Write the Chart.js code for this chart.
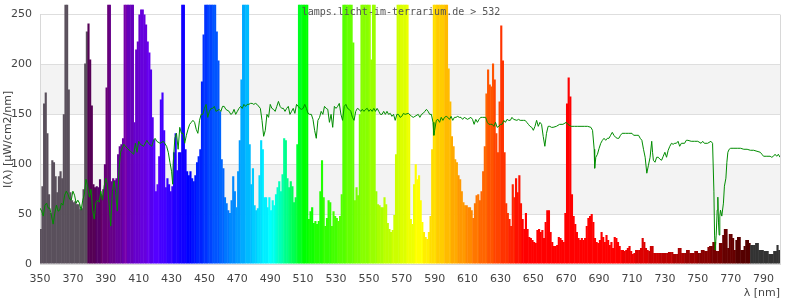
<!DOCTYPE html>
<html><head><meta charset="utf-8">
<script src="https://cdn.jsdelivr.net/npm/chart.js@4"></script>
<style>html,body{margin:0;padding:0;background:#fff;}canvas{display:block;}</style>
</head><body>
<canvas id="c" width="800" height="300"></canvas>
<script>
const startNm = 350;
const lampValues = [
 35,78,161,172,131,70,51,104,102,88,
 72,88,93,86,150,260,260,175,72,64,
 62,63,60,60,55,56,75,201,233,241,
 205,159,80,77,78,77,85,69,75,100,
 177,260,260,83,86,84,86,110,118,120,
 126,260,260,260,260,260,260,142,215,223,
 250,255,255,250,240,223,212,195,147,125,
 73,80,108,165,172,134,77,86,80,73,
 78,112,131,94,112,112,260,260,115,93,
 89,93,86,83,89,102,108,115,183,230,
 260,260,260,260,260,260,260,233,204,153,
 105,96,67,61,54,51,64,88,73,57,
 93,124,185,260,260,260,260,120,80,96,
 59,54,56,89,124,115,67,67,57,67,
 54,64,59,70,77,83,73,90,126,124,
 86,77,83,78,62,67,120,260,260,260,
 260,260,260,45,53,57,41,43,40,43,
 73,104,67,38,46,64,62,38,53,48,
 46,43,48,70,260,260,260,260,260,260,
 222,64,77,69,150,260,260,260,260,260,
 260,205,260,260,73,60,59,57,57,67,
 60,41,35,32,34,49,110,260,260,260,
 260,260,260,260,150,45,40,80,100,85,
 89,64,42,32,27,25,32,48,115,260,
 260,260,260,260,260,260,260,260,196,163,
 128,118,105,102,89,85,73,62,59,59,
 57,57,54,46,61,69,70,64,73,93,
 118,171,195,180,178,201,185,131,112,163,
 239,204,112,61,51,45,38,80,67,86,
 72,89,61,45,35,51,35,27,26,24,
 22,21,34,35,32,34,26,42,54,54,
 32,22,18,18,19,27,26,24,22,51,
 161,187,168,70,48,40,32,26,24,26,
 24,26,38,46,48,50,42,26,22,21,
 24,32,27,22,29,24,19,22,16,27,
 26,22,18,14,14,13,14,16,18,13,
 10,11,14,14,14,16,26,22,16,14,
 13,18,18,11,11,11,11,11,11,11,
 11,11,12,12,12,10,10,10,16,16,
 11,11,11,14,14,11,11,11,13,13,
 11,11,14,14,13,13,17,18,18,22,
 22,13,13,21,21,29,35,35,16,30,
 30,26,14,24,27,27,14,14,18,24,
 24,21,19,19,19,21,21,14,14,14,
 13,13,13,10,10,10,13,13,19,14
];
const sunNm = [
 350,351,352,353,354,355,356,357,358,359,
 360,361,362,363,364,365,366,367,368,369,
 370,371,372,373,374,375,376,377,378,379,
 380,381,382,383,384,385,386,387,388,389,
 390,391,392,393,394,395,396,397,398,399,
 400,401,402,403,405,407,408,409,410,411,413,415,416,418,419,420,421,423,425,427,428,429,430,430.7,431,432,433,434,435,436,437,438,439,
 440,441,442,443,444,445,446,447,448,449,
 450,451,452,453,454,455,456,457,459,
 460,461,462,463,465,466,467,468,469,
 470,471,472,473,474,475,476,477,478,479,
 480,481,482,484,485,486,487,488,489,
 490,491,492,493,494,495,496,497,498,499,
 500,501,502,503,504,505,506,507,508,509,
 510,511,512,513,514,515,516,517,518,519,
 520,521,522,523,524,525,526,527,528,529,
 530,531,532,533,534,535,536,537,538,539,
 540,541,542,543,544,545,546,547,548,549,
 550,551,552,553,554,555,556,557,558,559,
 560,561,562,563,564,565,566,567,568,569,
 570,571,572,574,576,577,578,580,581,582,583,584,585,586,587,588,589,589.5,590,591,592,593,594,595,596,597,598,599,
 600,601,602,603,604,605,606,607,608,610,612,613,614,615,616,617,618,619,
 620,621,622,623,624,625,626,627,628,629,
 630,631,632,633,634,635,636,637,638,640,641,642,644,645,646,647,648,649,
 650,651,652,653,654,655,656,657,658,659,
 660,661,662,664,666,668,670,671,673,675,677,679,681,683,685,686,687,687.3,688,689,
 690,691,692,693,694,695,696,697,698,699,
 700,701,702,703,704,706,708,710,711,713,714,715,716,717,718,719,
 720,721,722,722.5,723,724,725,726,727,728,729,
 730,731,732,733,734,735,736,737,738,739,
 740,742,743,744,746,748,750,752,753,754,756,758,759,759.8,760.2,760.6,761.2,761.8,762.2,762.6,763,763.4,763.8,764.6,765.6,766.2,767.1,767.7,768.3,769.1,
 770,772,774,776,778,780,782,784,786,788,789,790,792,794,795,796,797,798,799,800
];
const sunVal = [
 56,53,48,59,61,56,56,48,40,51,
 59,53,54,61,59,69,73,70,65,64,
 73,69,61,64,61,54,64,70,85,78,
 67,75,54,45,62,64,62,73,64,78,
 86,80,61,38,73,83,72,53,94,112,
 116,120,118,116,113,110,121,112,123,120,118,124,121,118,124,126,123,121,123,118,112,102,93,80,101,126,131,115,137,131,131,121,129,
 135,140,142,144,142,135,131,144,150,150,
 156,160,147,153,156,156,158,153,155,
 153,158,158,155,153,150,151,155,150,
 153,156,158,156,160,158,160,160,161,161,
 160,161,160,156,144,128,134,150,147,
 160,156,155,153,158,163,158,156,156,153,
 156,158,150,153,156,151,160,158,156,155,
 156,160,156,151,150,150,145,134,126,144,
 147,153,150,158,156,155,142,150,137,158,
 156,158,161,150,144,158,160,156,155,153,
 147,144,153,156,155,153,155,153,155,156,
 153,155,153,156,153,156,153,150,150,153,
 150,153,150,151,148,150,144,150,150,147,
 148,151,150,151,148,147,148,150,147,150,151,153,155,153,150,150,142,129,134,144,145,142,147,144,147,148,147,145,
 148,144,147,147,148,147,147,145,147,145,147,145,140,145,142,145,147,147,
 147,147,142,140,140,140,138,142,137,138,
 140,140,144,142,145,144,144,147,145,144,145,144,144,144,142,140,138,137,
 134,138,144,138,142,140,128,118,131,138,
 138,137,137,138,140,140,142,140,138,138,138,138,138,138,137,134,115,96,107,110,
 116,121,124,126,124,126,126,129,132,129,
 127,126,126,129,131,131,131,131,129,129,129,126,124,115,107,91,
 99,107,123,112,104,102,107,107,105,104,108,
 112,107,114,118,121,120,121,121,123,118,
 121,121,124,124,123,123,123,121,123,121,121,123,121,73,29,14,29,54,67,42,29,48,54,48,61,78,86,102,112,115,
 116,116,116,116,115,115,114,114,113,112,110,108,108,108,107,108,110,108,110,107
];
const xTickValues = [350,370,390,410,430,450,470,490,510,530,550,570,590,610,630,650,670,690,710,730,750,770,790];
const yTickValues = [0,50,100,150,200,250];
const shadedBands = [[50,100],[150,200]];
const headerText = 'lamps.licht-im-terrarium.de > 532';
const yAxisTitle = 'I(λ) [µW/cm2/nm]';
const xAxisTitle = 'λ [nm]';

function q(v){ v=Math.max(0,Math.min(1,v)); return Math.round(v*15)*17; }
function nmColor(nm){
  if (nm < 379) return '#5a505c';
  if (nm > 781) return '#333333';
  let r=0,g=0,b=0;
  if (nm<440){ r=(440-nm)/60; b=1; }
  else if (nm<490){ g=(nm-440)/50; b=1; }
  else if (nm<510){ g=1; b=(510-nm)/20; }
  else if (nm<580){ r=(nm-510)/70; g=1; }
  else if (nm<645){ r=1; g=(645-nm)/65; }
  else { r=1; }
  let f=1;
  if (nm<420) f=0.3+0.7*(nm-380)/40;
  else if (nm>700) f=0.3+0.7*(780-nm)/80;
  f=Math.max(0.3,f);
  return 'rgb('+q(r*f)+','+q(g*f)+','+q(b*f)+')';
}

const barData = lampValues.map((v,i)=>({x:startNm+i+0.5,y:v}));
const barColors = lampValues.map((v,i)=>nmColor(startNm+i));
const sunData = sunNm.map((x,i)=>({x:x,y:sunVal[i]}));

const bandPlugin = {
  id:'bands',
  beforeDraw(chart){
    const {ctx, chartArea:a, scales:{y}} = chart;
    ctx.save();
    ctx.fillStyle='#f3f3f3';
    shadedBands.forEach(([lo,hi])=>{
      const y1=y.getPixelForValue(hi), y2=y.getPixelForValue(lo);
      ctx.fillRect(a.left,y1,a.right-a.left,y2-y1);
    });
    ctx.restore();
  },
  beforeDatasetsDraw(chart){
    const {ctx, chartArea:a} = chart;
    ctx.save();
    ctx.strokeStyle='#d8d8d8'; ctx.lineWidth=1;
    ctx.beginPath();
    ctx.moveTo(Math.round(a.right)+0.5,a.top);
    ctx.lineTo(Math.round(a.right)+0.5,a.bottom);
    ctx.stroke();
    ctx.restore();
  },
  afterDraw(chart){
    const ctx=chart.ctx;
    ctx.save();
    ctx.font='10px "DejaVu Sans Mono", monospace';
    ctx.fillStyle='#555';
    ctx.textAlign='center';
    ctx.textBaseline='alphabetic';
    ctx.fillText(headerText,401,15);
    ctx.restore();
  }
};

Chart.defaults.font.family='"DejaVu Sans", sans-serif';
Chart.defaults.font.size=11;
Chart.defaults.color='#444';

new Chart(document.getElementById('c'),{
  type:'bar',
  data:{datasets:[
    {type:'line',data:sunData,borderColor:'#008c00',borderWidth:1,pointRadius:0,tension:0,fill:false,order:0},
    {type:'bar',data:barData,backgroundColor:barColors,borderWidth:0,barPercentage:1.3,categoryPercentage:1,order:1,clip:{left:0,top:10,right:0,bottom:0}}
  ]},
  options:{
    responsive:false,animation:false,devicePixelRatio:1,
    layout:{padding:{left:0,right:20,top:3,bottom:0}},
    plugins:{legend:{display:false},tooltip:{enabled:false}},
    scales:{
      x:{type:'linear',min:350,max:800,offset:false,
        afterBuildTicks:s=>{s.ticks=xTickValues.map(v=>({value:v}));},
        afterFit:s=>{s.height=36;},
        grid:{display:false},
        border:{display:true,color:'#d8d8d8'},
        ticks:{padding:1,autoSkip:false,maxRotation:0,color:'#444'},
        title:{display:true,text:xAxisTitle,align:'end',color:'#444',padding:{top:0,bottom:0}}
      },
      y:{min:0,max:250,
        afterBuildTicks:s=>{s.ticks=yTickValues.map(v=>({value:v}));},
        afterFit:s=>{s.width=40;},
        grid:{color:'#dedede',drawTicks:false},
        border:{display:true,color:'#d8d8d8'},
        ticks:{padding:8,color:'#444'},
        title:{display:true,text:yAxisTitle,color:'#444',padding:{top:2,bottom:0}}
      }
    }
  },
  plugins:[bandPlugin]
});
</script>
</body></html>
